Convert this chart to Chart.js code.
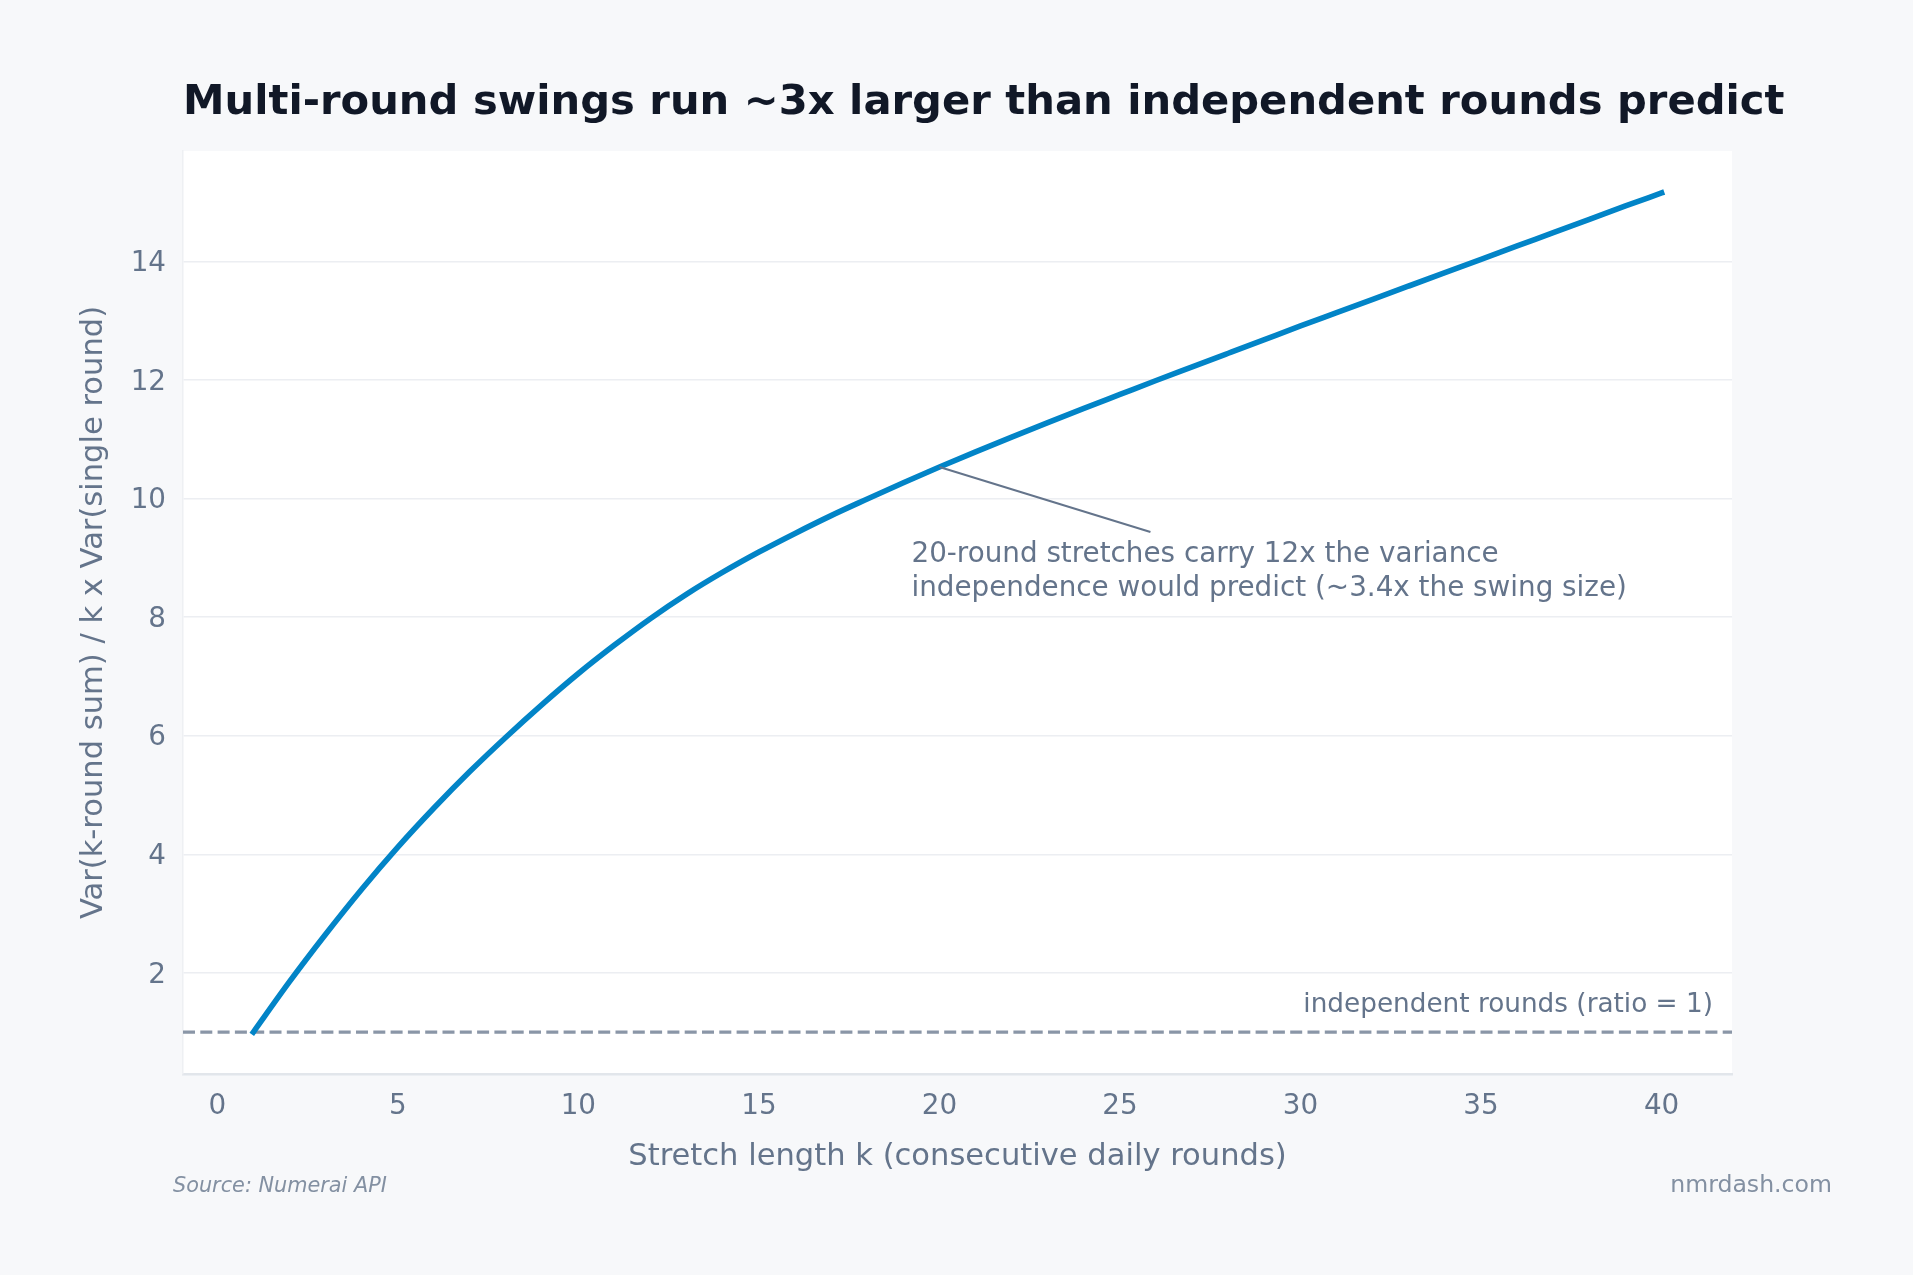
<!DOCTYPE html>
<html>
<head>
<meta charset="utf-8">
<script src="https://cdn.jsdelivr.net/npm/chart.js@4.4.1/dist/chart.umd.min.js"></script>
<style>
  html, body { margin: 0; padding: 0; background: #f7f8fa; }
  #wrap { width: 1913px; height: 1275px; position: relative; }
</style>
</head>
<body>
<div id="wrap"><canvas id="ratioChart"></canvas></div>
<script>
// stretch length k and variance ratio
const stretchK = [1, 2, 3, 4, 5, 6, 7, 8, 9, 10,
  11, 12, 13, 14, 15, 16, 17, 18, 19, 20,
  21, 22, 23, 24, 25, 26, 27, 28, 29, 30,
  31, 32, 33, 34, 35, 36, 37, 38, 39, 40];
const varianceRatio = [1.00, 1.85, 2.65, 3.41, 4.12, 4.78, 5.40, 5.98, 6.53, 7.05,
  7.53, 7.98, 8.39, 8.76, 9.10, 9.415, 9.715, 9.995, 10.27, 10.535,
  10.79, 11.04, 11.285, 11.525, 11.76, 11.995, 12.225, 12.455, 12.685, 12.915,
  13.14, 13.365, 13.59, 13.815, 14.04, 14.265, 14.49, 14.715, 14.94, 15.16];
const xTicks = [0, 5, 10, 15, 20, 25, 30, 35, 40];
const yTicks = [2, 4, 6, 8, 10, 12, 14];
const baselineRatio = 1;
const calloutK = 20;
const calloutLines = ['20-round stretches carry 12x the variance',
  'independence would predict (~3.4x the swing size)'];

const FONT = "'DejaVu Sans', 'Noto Sans', sans-serif";
const MUTED = '#64748b';

// 5% margins around the data, like the original
const kSpan = stretchK[stretchK.length - 1] - stretchK[0];
const xMin = stretchK[0] - 0.05 * kSpan;
const xMax = stretchK[stretchK.length - 1] + 0.05 * kSpan;
const rMinV = Math.min(...varianceRatio), rMaxV = Math.max(...varianceRatio);
const yMin = rMinV - 0.05 * (rMaxV - rMinV);
const yMax = rMaxV + 0.05 * (rMaxV - rMinV);

const decorations = {
  id: 'decorations',
  beforeDraw(chart) {
    const { ctx, chartArea: a } = chart;
    ctx.save();
    ctx.fillStyle = '#f7f8fa';
    ctx.fillRect(0, 0, chart.width, chart.height);
    ctx.fillStyle = '#ffffff';
    ctx.fillRect(a.left, a.top, a.right - a.left, a.bottom - a.top);
    ctx.restore();
  },
  afterDatasetsDraw(chart) {
    const { ctx, chartArea: a, scales: { x, y } } = chart;
    ctx.save();
    // baseline label
    ctx.font = '26.3px ' + FONT;
    ctx.fillStyle = MUTED;
    ctx.textAlign = 'right';
    ctx.textBaseline = 'alphabetic';
    ctx.fillText('independent rounds (ratio = 1)', a.right - 19, y.getPixelForValue(baselineRatio) - 20);

    // callout at k = 20
    const i = stretchK.indexOf(calloutK);
    const px = x.getPixelForValue(calloutK);
    const py = y.getPixelForValue(varianceRatio[i]);
    ctx.strokeStyle = MUTED;
    ctx.lineWidth = 2;
    ctx.beginPath();
    ctx.moveTo(px, py);
    ctx.lineTo(px + 211, py + 65);
    ctx.stroke();
    ctx.font = '27.8px ' + FONT;
    ctx.textAlign = 'left';
    calloutLines.forEach((t, j) => ctx.fillText(t, px - 28, py + 95 + j * 34));
    ctx.restore();
  },
  afterDraw(chart) {
    const { ctx } = chart;
    ctx.save();
    ctx.textBaseline = 'alphabetic';
    ctx.fillStyle = '#111827';
    ctx.font = 'bold 41.7px ' + FONT;
    ctx.textAlign = 'left';
    ctx.fillText('Multi-round swings run ~3x larger than independent rounds predict', 183, 114);

    ctx.fillStyle = '#8390a2';
    ctx.font = 'italic 20.8px ' + FONT;
    ctx.fillText('Source: Numerai API', 173, 1192);
    ctx.font = '23.6px ' + FONT;
    ctx.textAlign = 'right';
    ctx.fillText('nmrdash.com', 1832, 1192);
    ctx.restore();
  }
};

new Chart(document.getElementById('ratioChart').getContext('2d'), {
  type: 'line',
  data: {
    datasets: [{
      data: stretchK.map((k, i) => ({ x: k, y: varianceRatio[i] })),
      borderColor: '#0284c7',
      borderWidth: 5.6,
      borderCapStyle: 'square',
      pointRadius: 0,
      cubicInterpolationMode: 'monotone',
      fill: false,
      order: 1
    }, {
      data: [{ x: xMin, y: baselineRatio }, { x: xMax, y: baselineRatio }],
      borderColor: '#8a96a7',
      borderWidth: 3.3,
      borderDash: [12, 5.3],
      pointRadius: 0,
      fill: false,
      order: 2
    }]
  },
  options: {
    responsive: true,
    maintainAspectRatio: false,
    animation: false,
    layout: { padding: { left: 0, top: 151, right: 181, bottom: 99.2 } },
    plugins: { legend: { display: false }, tooltip: { enabled: false } },
    scales: {
      x: {
        type: 'linear',
        min: xMin,
        max: xMax,
        afterBuildTicks: s => { s.ticks = xTicks.map(v => ({ value: v })); },
        afterFit: s => { s.height = 101.8; },
        grid: { display: false, drawTicks: false },
        border: { display: true, color: '#e2e6eb', width: 2.5 },
        ticks: { color: MUTED, font: { family: FONT, size: 27.8 }, padding: 16.2, maxRotation: 0, autoSkip: false },
        title: { display: true, text: 'Stretch length k (consecutive daily rounds)', color: MUTED,
          font: { family: FONT, size: 30.56 }, padding: { top: 0, bottom: 0 } }
      },
      y: {
        type: 'linear',
        min: yMin,
        max: yMax,
        afterBuildTicks: s => { s.ticks = yTicks.map(v => ({ value: v })); },
        afterFit: s => { s.width = 183; },
        grid: { color: '#eceef2', lineWidth: 1.5, drawTicks: false },
        border: { display: true, color: '#eef0f3', width: 1.5 },
        ticks: { color: MUTED, font: { family: FONT, size: 27.8 }, padding: 17, labelOffset: 2.5 },
        title: { display: true, text: 'Var(k-round sum) / k x Var(single round)', color: MUTED,
          font: { family: FONT, size: 30.56 }, padding: { top: 76, bottom: 0 } }
      }
    }
  },
  plugins: [decorations]
});
</script>
</body>
</html>
